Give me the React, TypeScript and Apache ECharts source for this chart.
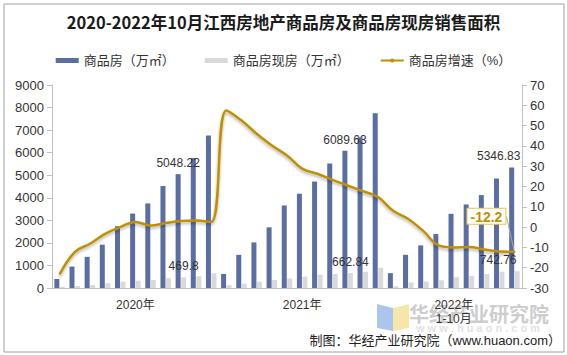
import React, { useEffect, useRef } from "react";
import * as echarts from "echarts";

const categories = [
  "2020年1-2月", "2020年1-3月", "2020年1-4月", "2020年1-5月", "2020年1-6月", "2020年1-7月",
  "2020年1-8月", "2020年1-9月", "2020年1-10月", "2020年1-11月", "2020年1-12月",
  "2021年1-2月", "2021年1-3月", "2021年1-4月", "2021年1-5月", "2021年1-6月", "2021年1-7月",
  "2021年1-8月", "2021年1-9月", "2021年1-10月", "2021年1-11月", "2021年1-12月",
  "2022年1-2月", "2022年1-3月", "2022年1-4月", "2022年1-5月", "2022年1-6月", "2022年1-7月",
  "2022年1-8月", "2022年1-9月", "2022年1-10月",
];

const salesArea = [
  400, 950, 1380, 1920, 2740, 3300, 3750, 4520, 5048.22, 5760, 6760,
  625, 1470, 2020, 2690, 3660, 4180, 4720, 5520, 6089.63, 6680, 7750,
  656, 1473, 1888, 2397, 3290, 3705, 4120, 4853, 5346.83,
];

const existingArea = [
  50, 90, 130, 210, 280, 325, 360, 430, 469.8, 520, 655,
  130, 190, 280, 360, 430, 500, 600, 620, 662.84, 720, 900,
  80, 250, 290, 340, 480, 540, 620, 720, 742.76,
];

const growthRate = [
  -23.3, -12.3, -8.2, -3.3, 0, 2.5, 0.8, 2.0, 3.0, 3.3, 2.5,
  57.5, 52.5, 46, 40.2, 35.3, 28.8, 26.3, 23.3, 20.5, 17.7, 14.8,
  8, 4, -2, -9, -10, -9.8, -11, -12, -12.2,
];

const yearLabels: Record<number, string> = { 5: "2020年", 16: "2021年", 26: "2022年\n1-10月" };
const yearBoundaries = [0, 11, 22];
const labeledIdx = [8, 19, 30];

const leftTicks = { min: 0, max: 9000, interval: 1000 };
const rightTicks = { min: -30, max: 70, interval: 10 };

const FONT = "'Liberation Sans', 'Noto Sans CJK SC', sans-serif";
const BLUE = "#5B6EA3";
const GRAY = "#D9D9D9";
const GOLD = "#BF9000";

export default function App() {
  const ref = useRef<HTMLDivElement>(null);
  useEffect(() => {
    document.body.style.margin = "0";
    if (!ref.current) return;
    const chart = echarts.init(ref.current, null, { renderer: "svg" });
    const lastIdx = growthRate.length - 1;
    chart.setOption({
      animation: false,
      textStyle: { fontFamily: FONT },
      title: {
        text: "2020-2022年10月江西房地产商品房及商品房现房销售面积",
        left: "center",
        top: 9,
        textStyle: { fontSize: 16.5, fontWeight: "bold", color: "#1a1a1a", fontFamily: "'Noto Sans CJK SC', serif" },
      },
      legend: {
        top: 49,
        left: "center",
        itemWidth: 23,
        itemHeight: 5,
        itemGap: 30,
        textStyle: { fontSize: 13, color: "#333", fontFamily: FONT },
        data: [
          { name: "商品房（万㎡）", icon: "rect" },
          { name: "商品房现房（万㎡）", icon: "rect" },
          { name: "商品房增速（%）" },
        ],
      },
      grid: { left: 52, right: 45, top: 85, bottom: 67 },
      xAxis: {
        type: "category",
        data: categories,
        axisLine: { lineStyle: { color: "#bfbfbf" } },
        axisTick: {
          alignWithLabel: false,
          interval: (i: number) => yearBoundaries.includes(i),
          lineStyle: { color: "#bfbfbf" },
          length: 5,
        },
        axisLabel: {
          interval: (i: number) => yearLabels[i] !== undefined,
          formatter: (_v: string, i: number) => yearLabels[i] ?? "",
          fontSize: 12,
          color: "#333",
          margin: 10,
          lineHeight: 14,
        },
      },
      yAxis: [
        {
          type: "value",
          ...leftTicks,
          splitLine: { show: false },
          axisLine: { show: true, lineStyle: { color: "#bfbfbf" } },
          axisTick: { show: true, lineStyle: { color: "#bfbfbf" } },
          axisLabel: { fontSize: 13, color: "#333", margin: 8, formatter: (v: number) => String(v) },
        },
        {
          type: "value",
          ...rightTicks,
          splitLine: { show: false },
          axisLine: { show: true, lineStyle: { color: "#bfbfbf" } },
          axisTick: { show: true, lineStyle: { color: "#bfbfbf" } },
          axisLabel: { fontSize: 13, color: "#333", margin: 8, formatter: (v: number) => String(v) },
        },
      ],
      series: [
        {
          name: "商品房（万㎡）",
          type: "bar",
          barWidth: 5,
          barGap: "10%",
          itemStyle: { color: BLUE },
          data: salesArea.map((v, i) =>
            labeledIdx.includes(i)
              ? {
                  value: v,
                  label: {
                    show: true,
                    position: "top",
                    fontSize: 12,
                    color: "#333",
                    offset: i === 30 ? [-13, 0] : [0, 0],
                  },
                }
              : v
          ),
        },
        {
          name: "商品房现房（万㎡）",
          type: "bar",
          barWidth: 5,
          barGap: "10%",
          itemStyle: { color: GRAY },
          data: existingArea.map((v, i) =>
            labeledIdx.includes(i)
              ? {
                  value: v,
                  label: {
                    show: true,
                    position: "top",
                    fontSize: 12,
                    color: "#333",
                    offset: i === 30 ? [-19, 0] : [0, 0],
                  },
                }
              : v
          ),
        },
        {
          name: "商品房增速（%）",
          type: "line",
          yAxisIndex: 1,
          smooth: 0.4,
          symbol: "none",
          z: 5,
          lineStyle: {
            color: GOLD,
            width: 2.5,
            shadowColor: "rgba(0,0,0,0.3)",
            shadowBlur: 3,
            shadowOffsetY: 2,
          },
          itemStyle: { color: GOLD },
          labelLine: { show: true, lineStyle: { color: "#a6a6a6", width: 1 } },
          labelLayout: (p: any) => (p.dataIndex === lastIdx ? { dx: -28, dy: -27 } : {}),
          data: growthRate.map((v, i) =>
            i === lastIdx
              ? {
                  value: v,
                  symbol: "circle",
                  symbolSize: 2,
                  label: {
                    show: true,
                    position: "top",
                    distance: 0,
                    fontSize: 14,
                    fontWeight: "bold",
                    color: GOLD,
                    backgroundColor: "#fff",
                    borderColor: "#E8C84A",
                    borderWidth: 1,
                    padding: [1, 3, 0, 3],
                  },
                }
              : v
          ),
        },
      ],
      graphic: [
        {
          type: "rect",
          z: -10,
          shape: { x: 4, y: 4, width: 560, height: 348 },
          style: { fill: "none", stroke: "#a0a0a0", lineWidth: 1 },
        },
        {
          type: "polygon",
          z: 0,
          shape: { points: [[377, 304], [393, 308], [393, 331], [377, 328]] },
          style: { fill: "#aac6ee" },
        },
        {
          type: "polygon",
          z: 0,
          shape: { points: [[393, 308], [409, 304], [409, 328], [393, 331]] },
          style: { fill: "#f6e7a8" },
        },
        {
          type: "text",
          z: 0,
          x: 409,
          y: 313,
          style: {
            text: "华经产业研究院",
            font: "bold 20px 'Noto Sans CJK SC', sans-serif",
            fill: "#cdcdcd",
            textVerticalAlign: "middle",
          },
        },
        {
          type: "text",
          z: 0,
          x: 478,
          y: 328,
          style: {
            text: "w w w . h u a o n . c o m",
            font: "bold 11px 'Liberation Sans', sans-serif",
            fill: "#e2e2e2",
            textAlign: "center",
            textVerticalAlign: "middle",
          },
        },
        {
          type: "text",
          z: 10,
          x: 561,
          y: 340,
          style: {
            text: "制图：华经产业研究院（www.huaon.com）",
            font: "13px 'Liberation Sans', 'Noto Sans CJK SC', sans-serif",
            fill: "#222",
            textAlign: "right",
            textVerticalAlign: "middle",
          },
        },
      ],
    });
    return () => chart.dispose();
  }, []);
  return (
    <div
      ref={ref}
      style={{ position: "fixed", left: 0, top: 0, width: 567, height: 355, background: "#fff" }}
    />
  );
}
